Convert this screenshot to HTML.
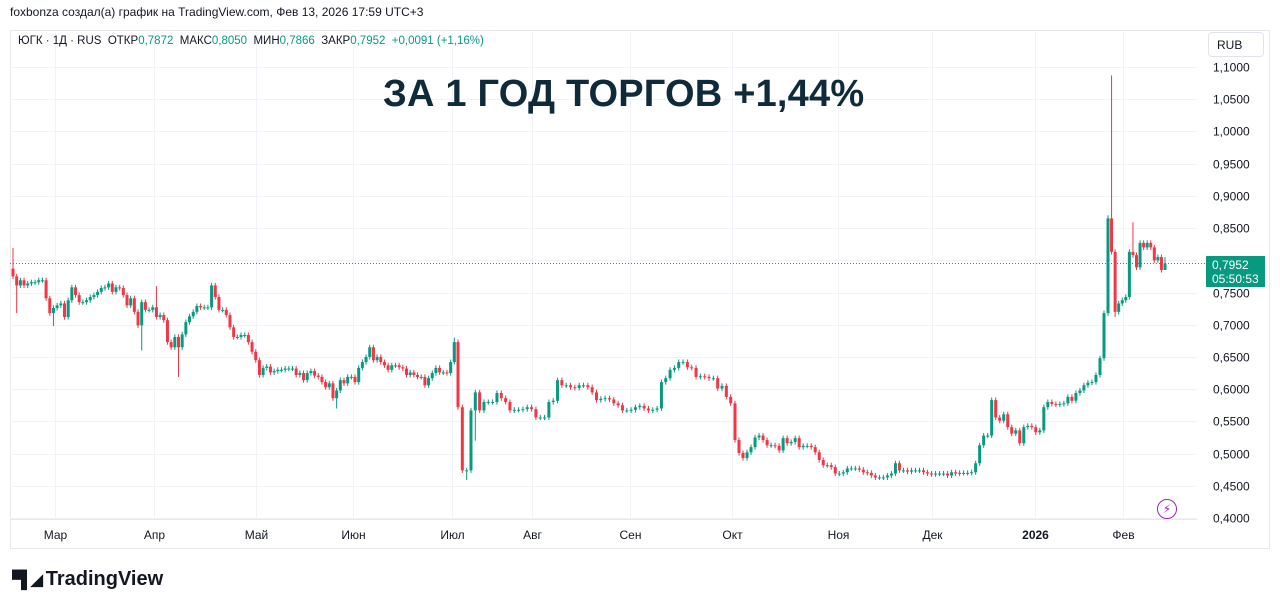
<!DOCTYPE html>
<html><head><meta charset="utf-8"><style>
body{margin:0;width:1280px;height:609px;background:#fff;font-family:"Liberation Sans","DejaVu Sans",sans-serif;overflow:hidden;position:relative}
.t{position:absolute;white-space:nowrap}
</style></head><body>
<div class="t" style="left:10px;top:5px;font-size:12px;color:#131722">foxbonza создал(а) график на TradingView.com, Фев 13, 2026 17:59 UTC+3</div>
<svg id="chart" width="1280" height="609" style="position:absolute;left:0;top:0">
<rect x="10.5" y="30.5" width="1259" height="518" fill="none" stroke="#e6e8ec"/>
<line x1="10" y1="519.5" x2="1197" y2="519.5" stroke="#e6e8ec"/>
<g id="grid"></g><g id="candles"></g><g id="axes"></g>
</svg>
<div class="t" style="left:18px;top:35px;font-size:11.5px;color:#131722">ЮГК · 1Д · RUS &nbsp;ОТКР<span style="color:#089981">0,7872</span> &nbsp;МАКС<span style="color:#089981">0,8050</span> &nbsp;МИН<span style="color:#089981">0,7866</span> &nbsp;ЗАКР<span style="color:#089981">0,7952</span> &nbsp;<span style="color:#089981">+0,0091 (+1,16%)</span></div>
<div class="t" style="left:383px;top:73px;font-size:38px;font-weight:bold;color:#0f2a3a;letter-spacing:0.2px">ЗА 1 ГОД ТОРГОВ +1,44%</div>
<div class="t" style="left:1208px;top:32px;width:56px;height:25px;border:1px solid #e0e3eb;border-radius:4px;font-size:12px;line-height:25px;box-sizing:border-box;padding-left:8px;color:#131722">RUB</div>
<div class="t" style="left:1206px;top:256px;width:59px;height:31px;background:#089981;color:#fff;font-size:12px;line-height:14px;padding:2px 0 0 6px;box-sizing:border-box">0,7952<br>05:50:53</div>
<div class="t" style="left:1157px;top:499px;width:18px;height:18px;border:1.5px solid #9c27b0;border-radius:50%;color:#9c27b0;font-size:12px;text-align:center;line-height:18px">⚡</div>
<div class="t" style="left:12px;top:568px;font-size:20px;font-weight:bold;color:#131722"><span style="font-size:17px;letter-spacing:-3px">▀▌◢</span> TradingView</div>
<script>
const closes=[775,761,769,761,764,766,766,769,769,741,718,726,730,733,712,738,758,746,735,735,738,743,746,751,757,758,764,751,758,757,746,730,741,720,699,735,723,723,727,712,715,707,673,665,681,665,685,704,713,720,729,727,727,727,761,743,723,723,715,696,681,681,684,684,673,658,645,622,633,635,626,628,630,630,632,632,632,622,625,614,625,628,621,619,611,603,609,586,598,614,609,619,619,611,633,642,650,665,645,650,642,637,630,637,637,634,632,622,626,622,619,619,606,617,625,633,626,626,625,642,673,572,474,474,
567,595,567,580,580,580,594,586,580,567,568,568,569,572,569,556,556,556,580,582,614,606,606,603,602,606,606,603,595,583,585,586,584,578,575,567,567,568,572,574,570,567,568,570,611,617,630,633,642,642,634,633,619,620,619,617,617,601,605,588,578,521,501,493,502,510,525,528,521,513,513,512,505,524,516,518,524,510,512,512,510,502,490,482,482,479,469,469,471,477,477,477,475,471,470,466,463,463,463,466,469,485,474,474,472,474,474,474,471,469,468,469,469,469,466,471,469,470,470,470,471,485,
513,528,528,583,556,551,561,541,531,536,516,541,543,541,533,536,572,580,577,576,577,578,588,582,594,598,606,610,611,622,648,718,865,813,720,733,738,743,813,808,789,827,820,827,820,800,805,785,795];
const firstOpen=787;
const wickIdx=[0,1,11,35,39,45,88,120,122,123,125,278,279,280,285,294];
const wickHigh=[819,null,null,null,760,null,null,680,null,null,null,870,1087,null,859,805];
const wickLow=[null,718,698,660,null,619,570,null,470,459,520,null,null,712,null,787];
const priceTicks=[0.4,0.45,0.5,0.55,0.6,0.65,0.7,0.75,0.8,0.85,0.9,0.95,1.0,1.05,1.1];
const monthLabels=["Мар","Апр","Май","Июн","Июл","Авг","Сен","Окт","Ноя","Дек","2026","Фев"];
const monthIdx=[11.4,38.3,66,92.4,119.4,138.1,160.7,184.3,210.7,234.1,259.8,282.2];
// time scale: session index -> pixel (calendar breaks make spacing uneven)
const scaleIdx=[0,121,185,278,294];
const scalePx=[13,458,735,1108,1165];
const NS="http://www.w3.org/2000/svg";
const n=closes.length;
function xOf(i){for(let k=1;k<scaleIdx.length;k++){if(i<=scaleIdx[k]||k===scaleIdx.length-1){const a=scaleIdx[k-1],b=scaleIdx[k];return scalePx[k-1]+(i-a)*(scalePx[k]-scalePx[k-1])/(b-a);}}}
function yOf(v){return 67+(1.1-v)*644.3;}
function mk(t,a,p){const e=document.createElementNS(NS,t);for(const k in a)e.setAttribute(k,a[k]);p.appendChild(e);return e;}
const grid=document.getElementById('grid'),cg=document.getElementById('candles'),ax=document.getElementById('axes');
priceTicks.forEach(v=>{const y=Math.round(yOf(v))+0.5;
 const l=mk('line',{x1:10,x2:1197,y1:y,y2:y,stroke:'#f0f3fa'},grid);
 
 
 const t=mk('text',{x:1213,y:y+4,'font-size':12,fill:'#131722'},ax);
 t.textContent=v.toFixed(4).replace('.',',');
 
 });
monthLabels.forEach((m,k)=>{const x=Math.round(xOf(monthIdx[k]))+0.5;
 const l=mk('line',{x1:x,x2:x,y1:31,y2:519,stroke:'#f0f3fa'},grid);
 
 
 const t=mk('text',{x:x,y:539,'font-size':12,fill:'#131722','text-anchor':'middle','font-weight':m==='2026'?'bold':'normal'},ax);
 t.textContent=m;
 
 });
const ly=yOf(closes[n-1]/1000);
const dl=mk('line',{x1:10,x2:1206,y1:ly,y2:ly,stroke:'#089981','stroke-dasharray':'1,2'},grid);


for(let i=0;i<n;i++){
 const c=closes[i]/1000,o=(i===0?firstOpen:closes[i-1])/1000;
 let hi=Math.max(o,c)+0.004,lo=Math.min(o,c)-0.004;
 const w=wickIdx.indexOf(i);
 if(w>=0){if(wickHigh[w]!=null)hi=wickHigh[w]/1000;if(wickLow[w]!=null)lo=wickLow[w]/1000;}
 const col=c>=o?'#089981':'#f23645',x=xOf(i);
 const wl=mk('line',{x1:x,x2:x,y1:yOf(hi),y2:yOf(lo),stroke:col,'stroke-width':1},cg);
 
 
 const yt=yOf(Math.max(o,c)),yb=yOf(Math.min(o,c));
 const r=mk('rect',{x:x-1.5,y:yt,width:3,height:Math.max(1,yb-yt),fill:col},cg);
 
 
}
</script>
</body></html>
